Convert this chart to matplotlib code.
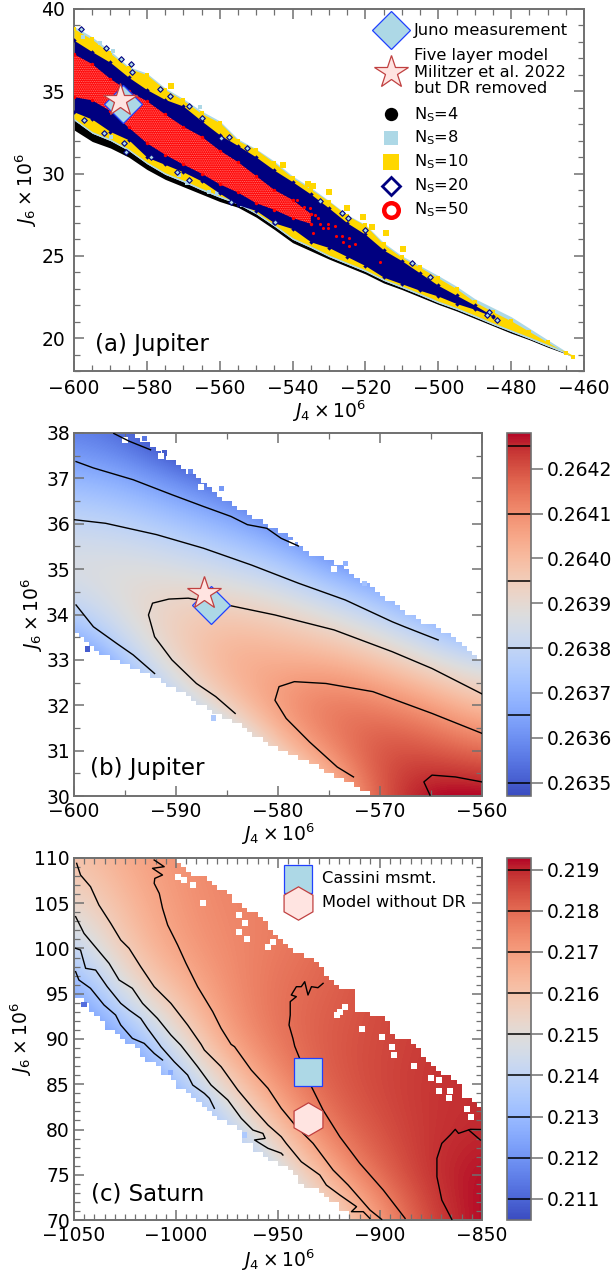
import numpy as np
import matplotlib
matplotlib.use('Agg')
import matplotlib.pyplot as plt
from matplotlib.patches import Polygon
from matplotlib.ticker import MultipleLocator

plt.rcParams['font.family'] = 'DejaVu Sans'
plt.rcParams['mathtext.fontset'] = 'dejavusans'
plt.rcParams['hatch.linewidth'] = 0.6

# (a) band edges of the model clouds
a_j4 = [-600, -595, -590, -585, -580, -575, -570, -565, -560, -555, -550, -545, -540, -535, -530, -525, -520, -515,
        -510, -505, -500, -495, -490, -485, -480, -475, -470, -465, -463]
yellow_upper = [38.8, 38.15, 37.3, 36.4, 36.0, 35.1, 34.45, 33.65, 33.1, 32.0, 31.45, 30.65, 29.75, 29.05, 28.3, 27.45,
                26.85, 25.7, 24.9, 24.3, 23.65, 23.0, 22.2, 21.6, 21.05, 20.4, 19.75, 19.1, 18.85]
lightblue_upper = [38.95, 38.3, 37.45, 36.5, 36.1, 35.2, 34.55, 33.8, 33.2, 32.1, 31.5, 30.75, 29.85, 29.15, 28.35, 27.5,
                   26.9, 25.8, 25.0, 24.4, 23.8, 23.15, 22.4, 21.85, 21.3, 20.6, 19.9, 19.2, 18.85]
black_upper = [33.25, 32.45, 32.0, 31.4, 30.6, 29.95, 29.5, 29.0, 28.55, 28.15, 27.55, 26.8, 26.0, 25.5, 24.95, 24.5,
               24.05, 23.5, 23.07, 22.62, 22.15, 21.75, 21.3, 20.83, 20.4, 19.97, 19.52, 19.08, 18.85]
black_lower = [32.65, 31.95, 31.55, 31.0, 30.25, 29.65, 29.2, 28.75, 28.3, 27.95, 27.35, 26.6, 25.8, 25.3, 24.8, 24.35,
               23.9, 23.35, 22.95, 22.5, 22.05, 21.65, 21.2, 20.75, 20.3, 19.9, 19.45, 19.05, 18.85]

navy_j4 = [-600, -595, -590, -585, -580, -575, -570, -565, -560, -555, -550, -545, -540, -535, -530, -525, -520, -515,
           -510, -505, -500, -495, -490, -485]
navy_upper = [38.1, 37.4, 36.75, 35.85, 35.1, 34.5, 34.1, 33.2, 32.35, 31.7, 31.0, 30.2, 29.5, 28.75, 27.9, 27.0,
              26.3, 25.35, 24.7, 23.95, 23.2, 22.6, 22.0, 21.35]
navy_lower = [33.75, 33.3, 32.55, 32.05, 31.0, 30.55, 30.1, 29.55, 28.8, 28.1, 27.75, 27.0, 26.65, 25.85, 25.5, 24.95,
              24.4, 23.7, 23.3, 22.9, 22.55, 22.1, 21.75, 21.3]

red_j4 = [-600, -595, -590, -585, -580, -575, -570, -565, -560, -555, -550, -545, -540, -535]
red_upper = [37.25, 36.65, 35.75, 35.0, 34.4, 33.6, 32.85, 32.25, 31.4, 30.7, 29.85, 29.0, 28.4, 27.55]
red_lower = [34.65, 34.45, 33.8, 32.8, 31.85, 31.15, 30.55, 30.0, 29.35, 28.85, 28.2, 27.8, 27.3, 26.95]

red_pts_j4 = [-532.9, -531.6, -530.2, -528.4, -528.1, -526.5, -526.1, -524.4, -524.4, -523, -534.3, -516, -530.2, -532.5,
              -538.9, -537, -535.2, -533.8]
red_pts_j6 = [27.28, 26.67, 26.67, 26.81, 26.21, 26.21, 25.86, 26.07, 25.6, 25.7, 26.37, 24.61, 26.94, 26.94,
              28.39, 27.99, 27.89, 27.48]
yellow_pts_j4 = [-542.7, -535.7, -534.3, -529.9, -525, -520.6, -518.3, -514.4, -509.8, -573.5]
yellow_pts_j6 = [30.52, 29.35, 29.26, 28.9, 27.89, 27.38, 26.77, 26.37, 25.42, 35.34]
lightblue_pts_j4 = [-565.5, -589.2, -597.4, -592.9, -589.9, -562.9, -560.7, -553.8, -568.9, -571.2]
lightblue_pts_j6 = [34.03, 37.45, 38.32, 37.95, 32.2, 28.9, 28.8, 28.1, 29.4, 29.9]
navy_pts_j4 = [-598.2, -591.3, -587, -584.4, -584, -576.4, -573.7, -568.4, -557.5, -552.4, -564.8, -559.7,
               -585.8, -579, -571.6, -568.4, -557, -597.3, -591.8, -586.3,
               -526.5, -524.7, -532.5, -520.1, -507.3, -502.3, -544.8, -486.1, -483.9, -486.6]
navy_pts_j6 = [38.76, 37.65, 36.94, 36.64, 36.19, 35.14, 34.73, 34.11, 32.25, 31.54, 33.36, 32.14,
               31.33, 31.03, 30.12, 29.61, 28.3, 33.26, 32.45, 31.84,
               27.62, 27.28, 28.35, 26.57, 24.59, 23.74, 27.08, 21.6, 21.1, 21.4]

juno = (-586.6, 34.2)
no_dr_jup = (-587.3, 34.48)
legend_ns = ['N$_{\\rm S}$=4', 'N$_{\\rm S}$=8', 'N$_{\\rm S}$=10', 'N$_{\\rm S}$=20', 'N$_{\\rm S}$=50']
legend_ns_y = [33.6, 32.17, 30.73, 29.27, 27.81]

# (b) field values at coarse nodes, 0.26 + v*1e-4, rows J6=30..38
b_j4 = [-600, -595, -590, -585, -580, -575, -570, -565, -560]
b_j6 = [30, 31, 32, 33, 34, 35, 36, 37, 38]
b_v = [[29.0, 31.0, 32.0, 34.0, 37.5, 39.5, 42.0, 43.0, 43.0],
       [31.0, 33.5, 35.0, 37.0, 39.8, 41.2, 42.2, 42.0, 41.6],
       [33.0, 35.8, 37.9, 39.7, 41.0, 41.6, 41.3, 40.8, 39.9],
       [35.5, 37.7, 39.4, 40.5, 40.4, 40.3, 39.8, 38.9, 38.2],
       [37.7, 38.9, 39.6, 39.7, 39.4, 38.8, 37.9, 36.8, 35.5],
       [38.8, 38.9, 38.7, 38.3, 37.8, 36.7, 35.9, 35.0, 34.0],
       [38.1, 37.9, 37.4, 36.8, 36.0, 34.8, 33.5, 32.5, 32.0],
       [36.95, 36.6, 35.9, 35.2, 34.2, 33.0, 32.0, 31.0, 30.5],
       [35.6, 35.2, 34.0, 33.0, 32.0, 31.0, 30.5, 30.0, 30.0]]
b_edge_j4 = [-600, -594.6, -592.7, -591.1, -588.8, -586.9, -584.2, -581.1, -579.6, -577.6, -573.4, -570.7, -566.8, -563.7,
             -561, -560, -560, -570.3, -572.6, -576.5, -580.3, -584.2, -588, -591.9, -596.1, -598.5, -600]
b_edge_j6 = [38, 38, 37.67, 37.45, 37.12, 36.75, 36.34, 35.94, 35.76, 35.39, 35.02, 34.5, 33.95, 33.58,
             33.14, 32.89, 30, 30, 30.27, 30.72, 31.12, 31.63, 32.11, 32.63, 33.0, 33.36, 33.66]
b_lines = [
    ([-596.1, -594.6, -592.5], [37.99, 37.82, 37.63]),
    ([-599.8, -598.1, -594.2, -590.4, -587.3, -584.6, -583, -581.1, -579.7, -578],
     [37.37, 37.23, 36.97, 36.64, 36.38, 36.16, 35.98, 35.9, 35.68, 35.51]),
    ([-600, -596.9, -591.9, -587.3, -582.6, -578, -573.4, -568.8, -567.6, -565.9, -564.3],
     [36.09, 36.01, 35.76, 35.46, 35.09, 34.69, 34.32, 33.84, 33.73, 33.58, 33.44]),
    ([-599.8, -598.1, -595.8, -594.2, -592.1], [34.21, 33.73, 33.36, 33.11, 32.7]),
    ([-560, -564.9, -568.8, -574.5, -580.3, -585, -588.8, -590.7, -592.3, -592.7, -592.1, -590.4, -588, -586.1, -584.2],
     [32.25, 32.81, 33.18, 33.66, 33.99, 34.21, 34.36, 34.34, 34.25, 33.99, 33.51, 33.0, 32.48, 32.19, 31.82]),
    ([-560, -564.9, -570.7, -575.3, -578.4, -579.9, -580.3, -579.2, -576.9, -574.2, -572.6],
     [31.38, 31.82, 32.3, 32.48, 32.52, 32.41, 32.11, 31.71, 31.19, 30.64, 30.42]),
    ([-560, -562.6, -564.9, -565.7, -565.1], [30.31, 30.42, 30.46, 30.31, 30.02]),
]
b_levels = [0.2635, 0.26365, 0.2638, 0.26395, 0.2641, 0.26425]
b_ticks = [0.2635, 0.2636, 0.2637, 0.2638, 0.2639, 0.2640, 0.2641, 0.2642]
b_cells_j4 = [-598.65, -586.3, -593.1, -591.1, -588.6, -585.5, -573.4, -571.5]
b_cells_j6 = [33.24, 31.72, 37.87, 37.56, 37.15, 36.77, 35.13, 34.69]
b_cells_v = [0.2635, 0.26375, 0.26355, 0.2635, 0.26358, 0.26362, 0.26368, 0.26372]
b_holes_j4 = [-595, -591.5, -587.5, -578.6, -574.5, -572.5]
b_holes_j6 = [37.85, 37.5, 36.8, 35.57, 35.0, 34.95]

# (c) field values at coarse nodes, 0.21 + v*1e-3, rows J6=70..110
c_j4 = [-1050, -1025, -1000, -975, -950, -925, -900, -875, -850]
c_j6 = [70, 75, 80, 85, 90, 95, 100, 105, 110]
c_v = [[0.5, 0.5, 0.0, 0.5, 3.0, 5.0, 7.0, 8.7, 9.3],
       [0.5, 0.5, 0.0, 2.0, 4.5, 6.7, 8.1, 8.95, 9.25],
       [0.5, 0.5, 1.5, 3.9, 6.15, 7.8, 8.45, 8.85, 8.97],
       [0.5, 1.0, 3.3, 5.65, 7.35, 8.25, 8.6, 8.85, 8.9],
       [1.2, 2.6, 5.0, 7.0, 7.85, 8.3, 8.55, 8.75, 9.0],
       [2.3, 4.8, 6.2, 7.3, 7.9, 8.15, 8.5, 8.75, 9.0],
       [3.95, 5.9, 6.95, 7.4, 7.7, 8.0, 8.5, 8.75, 9.0],
       [5.2, 6.3, 7.1, 7.5, 7.6, 8.0, 8.5, 8.75, 9.0],
       [6.0, 6.7, 7.2, 7.6, 7.6, 8.0, 8.5, 8.75, 9.0]]
c_edge_j4 = [-1050, -1002.5, -994.3, -988.6, -979.5, -973, -964, -959.9, -951.7, -942.7, -932, -927.9, -919.7, -912.3, -911.5,
             -901.7, -894.3, -893.5, -888.5, -883.6, -878.7, -868.9, -860.7, -859.8, -852.5, -850,
             -850, -910.7, -914.8, -919.7, -927.9, -934.5, -944.3, -949.2, -951.7, -959.9, -967.2, -969.7, -979.5, -988.6,
             -996, -1003.3, -1007.4, -1017.3, -1023.8, -1031.2, -1035.3, -1039.4, -1041.9, -1049.2, -1050]
c_edge_j6 = [110, 110, 108.67, 107.75, 106.65, 105.17, 104.25, 103.33, 101.67, 99.65, 98.54, 97.07, 95.6, 95.23, 93.02,
             92.28, 91.36, 90.07, 89.89, 88.78, 87.49, 86.2, 84.73, 83.44, 82.7, 82.15,
             70, 70, 70.92, 71.84, 72.94, 73.68, 75.89, 76.26, 76.44, 77.73, 79.2, 80.31, 81.41, 82.89,
             84.73, 86.02, 86.94, 88.78, 90.25, 91.18, 91.9, 93.2, 94.13, 94.5, 95]
c_lines = [
    ([-1049.2, -1047.6, -1041.9, -1035.3, -1029.6, -1027.1, -1021.4, -1015.6, -1010.7, -1006.6],
     [97.44, 96.52, 95.6, 93.76, 92.65, 91.55, 90.07, 89.52, 88.41, 87.68]),
    ([-1049.2, -1046.8, -1044.3, -1039.4, -1033.7, -1027.1, -1023, -1017.3, -1014, -1008.2, -1007.4, -1000.9, -994.3,
      -991.8, -986.1, -983.6, -981.2],
     [100.02, 99.83, 97.81, 97.62, 95.78, 93.94, 93.2, 92.28, 91.18, 89.41, 89.15, 87.49, 86.02,
      84.91, 83.99, 83.44, 82.34]),
    ([-1049.2, -1045.1, -1036.9, -1032.8, -1027.9, -1021.4, -1016.4, -1009.1, -1002.5, -997.6, -989.4, -982.8, -974.6,
      -968, -962.3, -957.4, -956.3, -961.5, -954.9, -948.4, -947.6],
     [103.52, 101.67, 99.46, 98.36, 96.52, 95.6, 93.94, 92.28, 90.44, 89.3, 86.94, 84.91, 83.26,
      81.23, 79.94, 79.57, 79.02, 78.84, 77.92, 77.38, 77.18]),
    ([-1048.7, -1046.8, -1041.9, -1037.8, -1032, -1027.1, -1023, -1017.3, -1010.7, -1002.5, -994.3, -987.7, -986.1, -977.9,
      -969.7, -961.5, -954.9, -948.4, -946, -938.6, -929.5, -926.3, -919.7, -911.5, -914, -908.2, -905],
     [109.41, 108.12, 106.83, 104.81, 102.78, 100.94, 100.02, 97.99, 95.78, 93.94, 91.55, 89.41, 88.78, 86.94,
      84.36, 82.15, 80.49, 79.2, 78.47, 76.44, 74.97, 73.86, 72.76, 71.47, 70.92, 70.92, 70.18]),
    ([-1010.7, -1005.8, -1011.5, -1006.6, -1010.4, -1010.7, -1008.2, -1006.6, -1004.1, -999.2, -995.1, -989.4, -982, -977.9,
      -973, -971.3, -963.1, -954.9, -948.4, -941, -932.8, -923, -915.6, -904.9, -899.2],
     [109.78, 109.04, 108.86, 108.12, 107.75, 107.2, 106.09, 104.44, 102.6, 100.39, 98.36, 95.78, 93.02, 91.18,
      89.41, 89.15, 86.57, 84.55, 82.34, 80.31, 78.47, 75.52, 73.86, 71.1, 70.07]),
    ([-927.9, -930.4, -933.6, -935.3, -936.9, -938.6, -941, -943.5, -941, -944, -944, -944.6, -942.7, -941.8, -939.4, -933.6,
      -927.9, -919.7, -909.9, -898.4, -887.7],
     [96.15, 95.67, 95.78, 94.86, 96.33, 95.78, 95.78, 94.86, 94.68, 94.13, 92.65, 91.55, 90.07, 89.2, 87.86, 84.73,
      82.15, 79.2, 76.26, 73.31, 70.18]),
    ([-864.8, -869.7, -872.1, -872.1, -869.7, -865.6, -863.1, -861.5, -855.7, -850.8],
     [70.07, 72.2, 74.78, 76.81, 78.47, 79.39, 80.02, 79.57, 80.02, 80.0]),
    ([-856.5, -850.8], [79.94, 78.84]),
]
c_levels = [0.211, 0.212, 0.213, 0.214, 0.215, 0.216, 0.217, 0.218, 0.219]
c_cells_j4 = [-1045.1, -1002.5, -966.4]
c_cells_j6 = [93.83, 86.28, 79.39]
c_cells_v = [0.2112, 0.2126, 0.2135]
c_holes_j4 = [-894.3, -893.1, -883.3, -875.1, -871.3, -865.6, -871.3, -866.4, -857.4, -855.4, -917.2, -919.7, -921.3,
              -909, -899.2, -986.9, -968.9, -966.4, -968.9, -965.3, -954.9, -952.5, -991.8, -995.9, -999.2]
c_holes_j6 = [89.15, 88.23, 87.01, 85.65, 85.47, 84.25, 84.25, 83.44, 82.22, 81.41, 93.57, 93.0, 92.65,
              91.07, 90.26, 105.06, 103.7, 102.78, 101.86, 101.05, 100.2, 100.68, 107.0, 107.57, 107.94]

cassini = (-935.3, 86.34)
no_dr_sat = (-935.4, 81.2)

W, H = 613, 1277
GRAY = '#707070'


def make_axes(left, right, top, bottom):
    return fig.add_axes([left / W, 1 - bottom / H, (right - left) / W, (bottom - top) / H])


def style_axes(ax, xmaj, xmin, ymaj, ymin):
    ax.xaxis.set_major_locator(MultipleLocator(xmaj))
    ax.xaxis.set_minor_locator(MultipleLocator(xmin))
    ax.yaxis.set_major_locator(MultipleLocator(ymaj))
    ax.yaxis.set_minor_locator(MultipleLocator(ymin))
    ax.tick_params(which='both', direction='in', top=True, right=True, color=GRAY, labelsize=13.5)
    ax.tick_params(which='major', length=7.5, width=1.1, pad=4)
    ax.tick_params(which='minor', length=4, width=0.9)
    for s in ax.spines.values():
        s.set_color(GRAY)
        s.set_linewidth(1.4)
    ax.set_xlabel(r'$J_4 \times 10^6$', fontsize=13.5)
    ax.set_ylabel(r'$J_6 \times 10^6$', fontsize=13.5)


# outline of the filled grid cells: the field was binned, so the edge comes in steps
def staircase(j4, j6, dx, dy):
    xs, ys = [], []
    n = len(j4)
    for i in range(n):
        x0, y0 = j4[i], j6[i]
        x1, y1 = j4[(i + 1) % n], j6[(i + 1) % n]
        steps = max(1, int(max(abs(x1 - x0) / dx, abs(y1 - y0) / dy)))
        for t in np.linspace(0, 1, steps, endpoint=False):
            x = np.round((x0 + t * (x1 - x0)) / dx) * dx
            y = np.round((y0 + t * (y1 - y0)) / dy) * dy
            if ys:
                xs.append(x)
                ys.append(ys[-1])
            xs.append(x)
            ys.append(y)
    return np.column_stack([xs, ys])


def heat_map(ax, j4, j6, values, edge_j4, edge_j6, cell_x, cell_y, norm):
    dx = (j4[1] - j4[0]) / 2
    dy = (j6[1] - j6[0]) / 2
    im = ax.imshow(values, origin='lower', aspect='auto', cmap='coolwarm', norm=norm, interpolation='bicubic',
                   extent=[j4[0] - dx, j4[-1] + dx, j6[0] - dy, j6[-1] + dy], zorder=1)
    clip = Polygon(staircase(edge_j4, edge_j6, cell_x, cell_y), closed=True, transform=ax.transData)
    im.set_clip_path(clip)
    return im


def color_bar(cax, im, ticks, levels, fmt):
    cb = fig.colorbar(im, cax=cax, ticks=ticks, format=fmt)
    cb.ax.hlines(levels, 0, 1, colors='black', linewidth=1.1)
    cb.ax.tick_params(which='major', direction='out', length=8.5, width=1.1, color=GRAY, labelsize=13.5, pad=2.5)
    cb.ax.minorticks_off()
    cb.outline.set_edgecolor(GRAY)
    cb.outline.set_linewidth(1.2)


fig = plt.figure(figsize=(W / 100, H / 100), dpi=100)

# panel (a)
ax = make_axes(74, 584, 9, 371)
ax.fill_between(a_j4, black_lower, black_upper, color='black', linewidth=0, zorder=2)
ax.fill_between(a_j4, black_upper, lightblue_upper, color='lightblue', linewidth=0, zorder=3)
ax.fill_between(a_j4, [v + 0.1 for v in black_upper], yellow_upper, color='gold', linewidth=0, zorder=4)
ax.scatter(a_j4, yellow_upper, marker='s', s=12, color='gold', linewidth=0, zorder=4)
ax.scatter(lightblue_pts_j4, lightblue_pts_j6, marker='s', s=12, color='lightblue', linewidth=0, zorder=4.5)
ax.fill_between(navy_j4, navy_lower, navy_upper, color='navy', linewidth=0, zorder=5)
ax.scatter(navy_j4, navy_upper, marker='D', s=5, color='navy', linewidth=0, zorder=5)
ax.scatter(navy_j4, navy_lower, marker='D', s=5, color='navy', linewidth=0, zorder=5)
ax.fill_between(red_j4, red_lower, red_upper, facecolor='red', edgecolor='#ff7a7a', hatch='.........', linewidth=0, zorder=6)
ax.scatter(red_j4, red_upper, marker='o', s=6, color='red', linewidth=0, zorder=6)
ax.scatter(red_j4, red_lower, marker='o', s=6, color='red', linewidth=0, zorder=6)
ax.scatter(yellow_pts_j4, yellow_pts_j6, marker='s', s=14, color='gold', linewidth=0, zorder=4)
ax.scatter(navy_pts_j4, navy_pts_j6, marker='D', s=8, facecolor='lightblue', edgecolor='navy', linewidth=0.8, zorder=5.5)
ax.scatter(red_pts_j4, red_pts_j6, marker='o', s=5, color='red', linewidth=0, zorder=6)
ax.plot(*juno, marker='D', ms=19.4, mfc='lightblue', mec='#2040ff', mew=0.9, zorder=8)
ax.plot(*no_dr_jup, marker='*', ms=25, mfc='#ffe4e1', mec='#c04040', mew=0.9, zorder=9)

# legend drawn in the panel
lx, tx = -513, -506.6
ax.plot(lx, 38.72, marker='D', ms=19.4, mfc='lightblue', mec='#2040ff', mew=0.9, zorder=8)
ax.plot(lx, 36.15, marker='*', ms=25, mfc='#ffe4e1', mec='#c04040', mew=0.9, zorder=8)
ax.text(tx, 38.72, 'Juno measurement', fontsize=11.7, va='center')
ax.text(tx, 36.15, 'Five layer model\nMilitzer et al. 2022\nbut DR removed', fontsize=11.7, va='center', linespacing=1.12)
ax.plot(lx, legend_ns_y[0], marker='o', ms=9.6, color='black', mew=0)
ax.plot(lx, legend_ns_y[1], marker='s', ms=10, color='lightblue', mew=0)
ax.plot(lx, legend_ns_y[2], marker='s', ms=11, color='gold', mew=0)
ax.plot(lx, legend_ns_y[3], marker='D', ms=9, mfc='white', mec='navy', mew=2)
ax.plot(lx, legend_ns_y[4], marker='o', ms=10.5, mfc='white', mec='red', mew=3.2)
for label, y in zip(legend_ns, legend_ns_y):
    ax.text(tx, y, label, fontsize=11.7, va='center')
ax.text(-594.2, 19.6, '(a) Jupiter', fontsize=16.5, va='center')
ax.set_xlim(-600, -460)
ax.set_ylim(18, 40)
style_axes(ax, 20, 5, 5, 1)
ax.tick_params(axis='y', which='major', pad=6.5)
ax.tick_params(axis='x', which='major', pad=5.5)
ax.xaxis.set_label_coords(0.5, -0.075)
ax.yaxis.set_label_coords(-0.068, 0.5)

# panel (b)
ax = make_axes(74, 482, 433, 796)
norm_b = plt.Normalize(0.26347, 0.26428)
im_b = heat_map(ax, b_j4, b_j6, 0.26 + np.array(b_v) * 1e-4, b_edge_j4, b_edge_j6, 0.5, 0.1, norm_b)
ax.scatter(b_cells_j4, b_cells_j6, marker='s', s=14, c=b_cells_v, cmap='coolwarm', norm=norm_b, linewidth=0, zorder=2)
ax.scatter(b_holes_j4, b_holes_j6, marker='s', s=14, color='white', linewidth=0, zorder=2)
for xs, ys in b_lines:
    ax.plot(xs, ys, color='black', lw=1.0, zorder=3)
ax.plot(*juno, marker='D', ms=19.4, mfc='lightblue', mec='#2040ff', mew=0.9, zorder=8)
ax.plot(*no_dr_jup, marker='*', ms=25, mfc='#ffe4e1', mec='#c04040', mew=0.9, zorder=9)
ax.text(-598.4, 30.6, '(b) Jupiter', fontsize=16.5, va='center')
ax.set_xlim(-600, -560)
ax.set_ylim(30, 38)
style_axes(ax, 10, 5, 1, 0.5)
ax.tick_params(axis='y', which='major', pad=3)
ax.xaxis.set_label_coords(0.5, -0.07)
ax.yaxis.set_label_coords(-0.072, 0.5)
cax = make_axes(507, 531, 433, 796)
color_bar(cax, im_b, b_ticks, b_levels, '%.4f')

# panel (c)
ax = make_axes(74, 482, 858, 1220)
norm_c = plt.Normalize(0.21049, 0.21928)
im_c = heat_map(ax, c_j4, c_j6, 0.21 + np.array(c_v) * 1e-3, c_edge_j4, c_edge_j6, 2.5, 0.5, norm_c)
ax.scatter(c_cells_j4, c_cells_j6, marker='s', s=14, c=c_cells_v, cmap='coolwarm', norm=norm_c, linewidth=0, zorder=2)
ax.scatter(c_holes_j4, c_holes_j6, marker='s', s=14, color='white', linewidth=0, zorder=2)
for xs, ys in c_lines:
    ax.plot(xs, ys, color='black', lw=1.0, zorder=3)
ax.plot(*cassini, marker='s', ms=19.7, mfc='lightblue', mec='#2040ff', mew=0.9, zorder=8)
ax.plot(*no_dr_sat, marker='h', ms=24, mfc='#ffe4e1', mec='#c04040', mew=0.9, zorder=9)
ax.plot(-940, 107.7, marker='s', ms=19.7, mfc='lightblue', mec='#2040ff', mew=0.9, zorder=8)
ax.plot(-940, 105, marker='h', ms=24, mfc='#ffe4e1', mec='#c04040', mew=0.9, zorder=9)
ax.text(-928.4, 107.7, 'Cassini msmt.', fontsize=11.7, va='center')
ax.text(-928.4, 105.05, 'Model without DR', fontsize=11.7, va='center')
ax.text(-1041.7, 72.9, '(c) Saturn', fontsize=16.5, va='center')
ax.set_xlim(-1050, -850)
ax.set_ylim(70, 110)
style_axes(ax, 50, 5, 5, 1)
ax.tick_params(axis='y', which='major', pad=3)
ax.xaxis.set_label_coords(0.5, -0.075)
ax.yaxis.set_label_coords(-0.097, 0.5)
cax = make_axes(507, 531, 858, 1220)
color_bar(cax, im_c, c_levels, c_levels, '%.3f')

fig.savefig('out.png', dpi=100)
